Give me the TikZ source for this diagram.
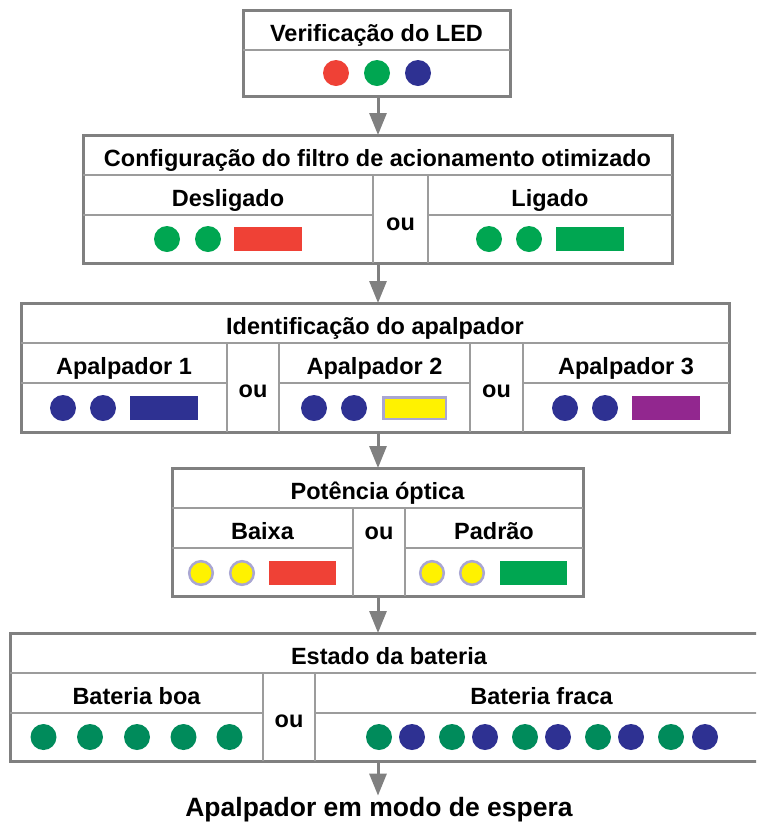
\documentclass[tikz,border=0pt]{standalone}
\usepackage{fontspec}
\setmainfont{Liberation Sans}
\usetikzlibrary{arrows.meta}
\definecolor{lred}{HTML}{EF4136}
\definecolor{lgreen}{HTML}{00A651}
\definecolor{lblue}{HTML}{2E3192}
\definecolor{bgreen}{HTML}{008B5B}
\definecolor{lyellow}{HTML}{FFF200}
\definecolor{lav}{HTML}{A9A6D2}
\definecolor{lpurple}{HTML}{92278F}
\definecolor{bordergray}{HTML}{808080}
\definecolor{divgray}{HTML}{9C9C9C}
\tikzset{
  box/.style={draw=bordergray, line width=3pt, rectangle, inner sep=0pt, outer sep=0pt},
  div/.style={draw=divgray, line width=2pt},
  lbl/.style={font=\fontsize{23.5}{28}\selectfont\bfseries, anchor=base, inner sep=0pt},
  fintxt/.style={font=\fontsize{26.5}{32}\selectfont\bfseries, anchor=base, inner sep=1pt},
  arr/.style={draw=bordergray, line width=3pt, -{Triangle[width=17pt,length=22pt]}},
  dotc/.style={fill=#1},
  ydot/.style={fill=lyellow, draw=lav, line width=2.5pt},
}
\newcommand\ledA[3]{\fill[#1] (#2,#3) circle (13);}
\newcommand\ledY[2]{\filldraw[ydot] (#1,#2) circle (11.8);}
\newcommand\barR[4]{\fill[#1] (#2,#4-12) rectangle (#3,#4+12);}
\begin{document}
\begin{tikzpicture}[x=1pt,y=-1pt]
\useasboundingbox (0,0) rectangle (756,823);
\clip (0,0) rectangle (756,823);
\coordinate (ax) at (378,0);

% ---------- Box 1 ----------
\node[box, minimum width=267pt, minimum height=86pt] (b1) at (376.5,53) {};
\draw[div] (243,50) -- (510,50);
\node[lbl] (t1) at (376.5,41) {Verificação do LED};
\ledA{lred}{336}{73}
\ledA{lgreen}{377}{73}
\ledA{lblue}{418}{73}

% ---------- Box 2 ----------
\node[box, minimum width=589pt, minimum height=128pt] (b2) at (377.5,199) {};
\draw[div] (83,175) -- (672,175);
\draw[div] (83,215) -- (373,215);
\draw[div] (428,215) -- (672,215);
\draw[div] (373,175) -- (373,263);
\draw[div] (428,175) -- (428,263);
\node[lbl] (t2) at (377.5,166) {Configuração do filtro de acionamento otimizado};
\node[lbl] (t2a) at (228,206) {Desligado};
\node[lbl] (t2b) at (550,206) {Ligado};
\node[lbl] (o2) at (400.5,230) {ou};
\ledA{lgreen}{167}{239}
\ledA{lgreen}{208}{239}
\barR{lred}{234}{302}{239}
\ledA{lgreen}{489}{239}
\ledA{lgreen}{529}{239}
\barR{lgreen}{556}{624}{239}

% ---------- Box 3 ----------
\node[box, minimum width=708pt, minimum height=129pt] (b3) at (375,367.5) {};
\draw[div] (21,343) -- (729,343);
\draw[div] (21,383) -- (227,383);
\draw[div] (279,383) -- (470,383);
\draw[div] (523,383) -- (729,383);
\draw[div] (227,343) -- (227,432);
\draw[div] (279,343) -- (279,432);
\draw[div] (470,343) -- (470,432);
\draw[div] (523,343) -- (523,432);
\node[lbl] (t3) at (375,334) {Identificação do apalpador};
\node[lbl] (t3a) at (124,374) {Apalpador 1};
\node[lbl] (t3b) at (374.5,374) {Apalpador 2};
\node[lbl] (t3c) at (626,374) {Apalpador 3};
\node[lbl] (o3a) at (253,397) {ou};
\node[lbl] (o3b) at (496.5,397) {ou};
\ledA{lblue}{63}{408}
\ledA{lblue}{103}{408}
\barR{lblue}{130}{198}{408}
\ledA{lblue}{314}{408}
\ledA{lblue}{354}{408}
\filldraw[fill=lyellow, draw=lav, line width=2.5pt] (383.25,397.25) rectangle (445.75,418.75);
\ledA{lblue}{565}{408}
\ledA{lblue}{605}{408}
\barR{lpurple}{632}{700}{408}

% ---------- Box 4 ----------
\node[box, minimum width=411pt, minimum height=128pt] (b4) at (377.5,532) {};
\draw[div] (172,508) -- (583,508);
\draw[div] (172,548) -- (353,548);
\draw[div] (405,548) -- (583,548);
\draw[div] (353,508) -- (353,596);
\draw[div] (405,508) -- (405,596);
\node[lbl] (t4) at (377.5,499) {Potência óptica};
\node[lbl] (t4a) at (262.5,539) {Baixa};
\node[lbl] (t4b) at (494,539) {Padrão};
\node[lbl] (o4) at (379,539) {ou};
\ledY{201}{573}
\ledY{242}{573}
\barR{lred}{269}{336}{573}
\ledY{432}{573}
\ledY{472}{573}
\barR{lgreen}{500}{567}{573}

% ---------- Box 5 ----------
\node[box, minimum width=758pt, minimum height=128pt] (b5) at (389,697) {};
\draw[div] (10,673) -- (768,673);
\draw[div] (10,713) -- (263,713);
\draw[div] (315,713) -- (768,713);
\draw[div] (263,673) -- (263,761);
\draw[div] (315,673) -- (315,761);
\node[lbl] (t5) at (389,664) {Estado da bateria};
\node[lbl] (t5a) at (136.5,704) {Bateria boa};
\node[lbl] (t5b) at (541.5,704) {Bateria fraca};
\node[lbl] (o5) at (289,727) {ou};
\foreach \x in {43.5,90,137,183.5,229.5} {\ledA{bgreen}{\x}{737}}
\foreach \x in {379,452,525,598,671} {\ledA{bgreen}{\x}{737}}
\foreach \x in {412,485,558,631,705} {\ledA{lblue}{\x}{737}}

% ---------- Final ----------
\node[fintxt] (fin) at (379,816) {Apalpador em modo de espera};

% ---------- Arrows ----------
\draw[arr] (b1.south -| ax) -- (b2.north -| ax);
\draw[arr] (b2.south -| ax) -- (b3.north -| ax);
\draw[arr] (b3.south -| ax) -- (b4.north -| ax);
\draw[arr] (b4.south -| ax) -- (b5.north -| ax);
\draw[arr] (b5.south -| ax) -- (fin.north -| ax);
\end{tikzpicture}
\end{document}
